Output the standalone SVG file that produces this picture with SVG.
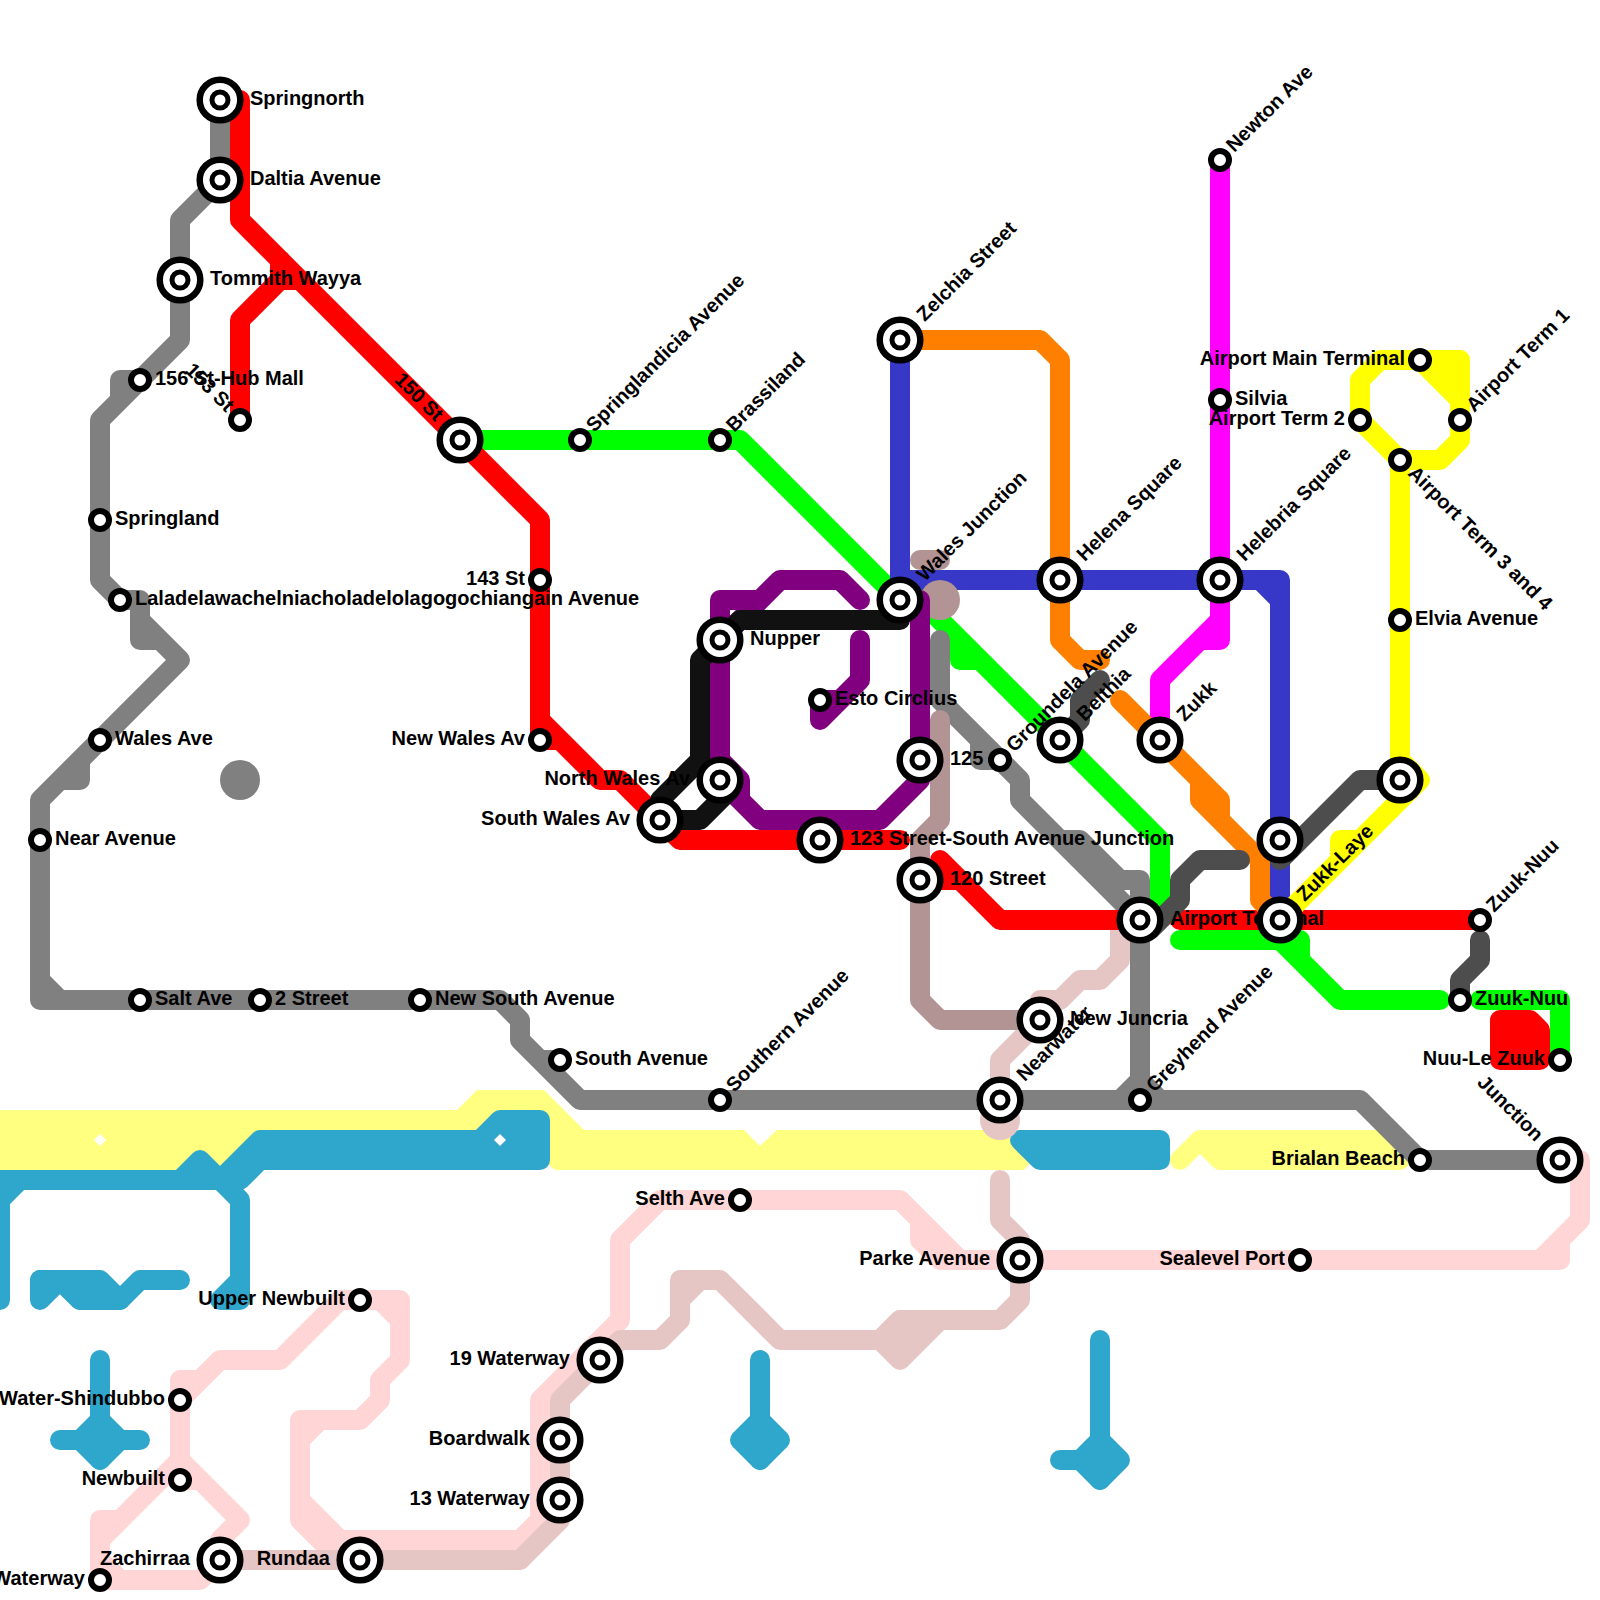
<svg xmlns="http://www.w3.org/2000/svg" width="1600" height="1600" viewBox="0 0 1600 1600">
<style>
.b{fill:none;stroke-width:20;stroke-linecap:round;stroke-linejoin:round}
.f{stroke-width:20;stroke-linejoin:round}
.g{stroke:#808080}.r{stroke:#f00}.gr{stroke:#0f0}.bl{stroke:#3838c8}.m{stroke:#f0f}.o{stroke:#ff8000}.p{stroke:#800080}.k{stroke:#111}.d{stroke:#4d4d4d}.y{stroke:#ff0}.t{stroke:#b29494}.pb{stroke:#e6c5c5}.pk{stroke:#ffd5d5}.w{stroke:#2fa6cc}.ly{stroke:#ffff80}
.o1{fill:#fff;stroke:#000;stroke-width:6.5}
.o2{fill:#fff;stroke:#000;stroke-width:5}
.s{fill:#fff;stroke:#000;stroke-width:6}
text{font-family:"Liberation Sans",Arial,sans-serif;font-weight:700;font-size:20px;fill:#000}
.e{text-anchor:end}
</style>
<defs>
<g id="big"><circle class="o1" r="20.3"/><circle class="o2" r="8"/></g>
<circle id="small" class="s" r="9"/>
</defs>
<g id="connectors">
<polygon fill="#ffff80" points="0,1110 457,1110 477,1090 544,1090 584,1130 744,1130 760,1146 777,1130 1005,1130 1030,1163 1024,1170 555,1170 549,1165 549,1150 0,1150 0,1170"/>
<rect x="0" y="1110" width="260" height="60" fill="#ffff80"/>
<path class="b ly" d="M1180,1160L1200,1140L1220,1160H1400M1200,1140H1380L1400,1160"/>
<polygon fill="#fff" points="100,1134 106,1140 100,1146 94,1140"/>
<g class="b w">
<path d="M0,1300V1180H220L240,1200V1300H220L240,1280M20,1180L0,1200M180,1180L200,1160L220,1180"/>
<path class="f" fill="#2fa6cc" d="M220,1180L260,1140H480L500,1120H540V1160H260L240,1180Z"/>
<path d="M40,1280V1300L60,1280L80,1300H120L140,1280H180"/><path class="f" fill="#2fa6cc" d="M40,1280H100L120,1300H80L60,1280Z"/>
<path d="M100,1360V1460M60,1440H140"/><path class="f" fill="#2fa6cc" d="M100,1420L120,1440L100,1460L80,1440Z"/>
<path d="M760,1360V1460"/><path class="f" fill="#2fa6cc" d="M760,1420L780,1440L760,1460L740,1440Z"/>
<path d="M1100,1340V1480M1060,1460H1100"/><path class="f" fill="#2fa6cc" d="M1100,1440L1120,1460L1100,1480L1080,1460Z"/>
<path class="f" fill="#2fa6cc" d="M1020,1140H1160V1160H1040Z"/>
</g>
<polygon fill="#fff" points="500,1134 506,1140 500,1146 494,1140"/>
<g class="b pk">
<path d="M360,1300H400V1360L380,1380V1400L360,1420H300V1520L340,1560M380,1300L400,1320M320,1420L300,1440M300,1500L340,1540H520L540,1520V1400L620,1320V1240L660,1200H900L960,1260M920,1220V1240L940,1260M340,1560H520M1020,1260H1560V1240M1540,1260L1580,1220V1160H1560M940,1260H1020"/>
<path d="M360,1300H340L280,1360H220L180,1400M200,1380H180V1480M180,1460L100,1540M120,1520H100V1580H200L220,1560M100,1560L120,1580M180,1460L240,1520L220,1540M180,1480H200"/>
</g>
<g class="b pb">
<path d="M1140,920H1120V960L1100,980H1080L1060,1000H1040V1020L1000,1060V1120"/>
<path d="M1000,1180V1220L1020,1240V1300L1000,1320H900L880,1340H780L720,1280H680V1320L660,1340H620L560,1400V1520L520,1560H220M700,1280L680,1300"/>
<path class="f" fill="#e6c5c5" d="M880,1340L900,1320H940L900,1360Z"/>
</g>
<circle cx="1000" cy="1120" r="20" fill="#e6c5c5"/>
<g class="b gr">
<path d="M460,440H740L900,600H920L1160,840V900L1140,920M960,640V660H980"/>
<path d="M1180,940H1280L1340,1000H1440M1280,940H1300V960"/>
<path d="M1480,1000H1560V1060"/>
</g>
<g class="b g">
<path d="M220,100V180L180,220V340L100,420V580L120,600H140V640H160M140,380H120V400M140,620L180,660L40,800V1000H500L520,1020V1040L580,1100H1360L1420,1160H1560M80,760V780H60M40,980L60,1000M540,1060H560"/>
<path d="M940,640V700L1020,780V800L1140,920V1100M980,740V760H1000M1060,840H1080L1120,880H1140V920M1140,1080L1120,1100M1140,1080L1160,1100"/>
</g>
<circle cx="240" cy="780" r="20" fill="#808080"/>
<path class="b bl" d="M900,340V600M900,580H1280V920M1260,580L1280,600"/>
<path class="b t" d="M920,560H940M940,720V820L920,840V1000L940,1020H1040"/>
<circle cx="940" cy="600" r="20" fill="#b29494"/>
<g class="b r">
<path d="M240,100V220L540,520V740H560M540,720L600,780H620L680,840H900"/>
<path d="M240,420V320L280,280H300M280,260V280"/>
<path d="M940,860L1000,920H1140M920,880H960M1180,920H1480"/>
</g>
<path class="f r" fill="#f00" d="M1500,1020H1530L1540,1030V1060H1500Z"/>
<path class="b m" d="M1220,160V640H1200M1220,620L1160,680V740"/>
<g class="b o">
<path d="M900,340H1040L1060,360V640L1080,660H1100"/>
<path d="M1120,700L1220,800V820L1260,860V900L1280,920M1200,780V800L1260,860"/>
</g>
<g class="b p">
<path d="M720,780V600H760L780,580H840L860,600M720,640L780,580M720,760L740,780V800L760,820H880L920,780V600M720,780L760,820"/>
<path d="M860,640V680L820,720V700H840"/>
</g>
<path class="b k" d="M900,620H740L700,660V760L660,800M660,820H700L730,790"/>
<g class="b d">
<path d="M1060,740L1080,720V700L1100,680"/>
<path d="M1150,930L1180,900V880L1200,860H1240"/>
<path d="M1280,860L1360,780H1400"/>
<path d="M1480,940V960L1460,980V1000"/>
</g>
<g class="b y">
<path d="M1420,360H1460V440L1440,460H1400L1360,420V380L1380,360H1420"/>
<path class="f" fill="#ff0" d="M1420,360H1460V400Z"/>
<path d="M1400,460V760L1420,780L1280,920M1360,840H1340V860"/>
</g>
</g>
<g id="nodes">
<g id="near-avenue" transform="translate(40,840)"><text x="15" y="4.5">Near Avenue</text><use href="#small"/></g>
<g id="waterway" transform="translate(100,1580)"><text class="e" x="-15" y="4.5">Waterway</text><use href="#small"/></g>
<g id="wales-ave" transform="translate(100,740)"><text x="15" y="4.5">Wales Ave</text><use href="#small"/></g>
<g id="springland" transform="translate(100,520)"><text x="15" y="4.5">Springland</text><use href="#small"/></g>
<g id="laladel" transform="translate(120,600)"><text x="15" y="4.5">Laladelawachelniacholadelolagogochiangain Avenue</text><use href="#small"/></g>
<g id="hub-mall" transform="translate(140,380)"><text x="15" y="4.5">156 St-Hub Mall</text><use href="#small"/></g>
<g id="salt-ave" transform="translate(140,1000)"><text x="15" y="4.5">Salt Ave</text><use href="#small"/></g>
<g id="tommith" transform="translate(180,280)"><text x="30" y="4.5">Tommith Wayya</text><use href="#big"/></g>
<g id="water-shindubbo" transform="translate(180,1400)"><text class="e" x="-15" y="4.5">Water-Shindubbo</text><use href="#small"/></g>
<g id="newbuilt" transform="translate(180,1480)"><text class="e" x="-15" y="4.5">Newbuilt</text><use href="#small"/></g>
<g id="springnorth" transform="translate(220,100)"><text x="30" y="4.5">Springnorth</text><use href="#big"/></g>
<g id="daltia" transform="translate(220,180)"><text x="30" y="4.5">Daltia Avenue</text><use href="#big"/></g>
<g id="zachirraa" transform="translate(220,1560)"><text class="e" x="-30" y="4.5">Zachirraa</text><use href="#big"/></g>
<g id="st153" transform="translate(240,420)"><text class="e" transform="rotate(45)" x="-15" y="5">153 St</text><use href="#small"/></g>
<g id="street2" transform="translate(260,1000)"><text x="15" y="4.5">2 Street</text><use href="#small"/></g>
<g id="upper-newbuilt" transform="translate(360,1300)"><text class="e" x="-15" y="4.5">Upper Newbuilt</text><use href="#small"/></g>
<g id="rundaa" transform="translate(360,1560)"><text class="e" x="-30" y="4.5">Rundaa</text><use href="#big"/></g>
<g id="new-south" transform="translate(420,1000)"><text x="15" y="4.5">New South Avenue</text><use href="#small"/></g>
<g id="st150" transform="translate(460,440)"><text class="e" transform="rotate(45)" x="-30" y="5">150 St</text><use href="#big"/></g>
<g id="st143" transform="translate(540,580)"><text class="e" x="-15" y="4.5">143 St</text><use href="#small"/></g>
<g id="new-wales" transform="translate(540,740)"><text class="e" x="-15" y="4.5">New Wales Av</text><use href="#small"/></g>
<g id="south-avenue" transform="translate(560,1060)"><text x="15" y="4.5">South Avenue</text><use href="#small"/></g>
<g id="boardwalk" transform="translate(560,1440)"><text class="e" x="-30" y="4.5">Boardwalk</text><use href="#big"/></g>
<g id="waterway13" transform="translate(560,1500)"><text class="e" x="-30" y="4.5">13 Waterway</text><use href="#big"/></g>
<g id="springlandicia" transform="translate(580,440)"><text transform="rotate(-45)" x="15" y="5">Springlandicia Avenue</text><use href="#small"/></g>
<g id="waterway19" transform="translate(600,1360)"><text class="e" x="-30" y="4.5">19 Waterway</text><use href="#big"/></g>
<g id="south-wales" transform="translate(660,820)"><text class="e" x="-30" y="4.5">South Wales Av</text><use href="#big"/></g>
<g id="nupper" transform="translate(720,640)"><text x="30" y="4.5">Nupper</text><use href="#big"/></g>
<g id="north-wales" transform="translate(720,780)"><text class="e" x="-30" y="4.5">North Wales Av</text><use href="#big"/></g>
<g id="brassiland" transform="translate(720,440)"><text transform="rotate(-45)" x="15" y="5">Brassiland</text><use href="#small"/></g>
<g id="southern" transform="translate(720,1100)"><text transform="rotate(-45)" x="15" y="5">Southern Avenue</text><use href="#small"/></g>
<g id="selth" transform="translate(740,1200)"><text class="e" x="-15" y="4.5">Selth Ave</text><use href="#small"/></g>
<g id="esto" transform="translate(820,700)"><text x="15" y="4.5">Esto Circlius</text><use href="#small"/></g>
<g id="st123" transform="translate(820,840)"><text x="30" y="4.5">123 Street-South Avenue Junction</text><use href="#big"/></g>
<g id="zelchia" transform="translate(900,340)"><text transform="rotate(-45)" x="30" y="5">Zelchia Street</text><use href="#big"/></g>
<g id="wales-junction" transform="translate(900,600)"><text transform="rotate(-45)" x="30" y="5">Wales Junction</text><use href="#big"/></g>
<g id="st125" transform="translate(920,760)"><text x="30" y="4.5">125 St</text><use href="#big"/></g>
<g id="street120" transform="translate(920,880)"><text x="30" y="4.5">120 Street</text><use href="#big"/></g>
<g id="groundela" transform="translate(1000,760)"><text transform="rotate(-45)" x="15" y="5">Groundela Avenue</text><use href="#small"/></g>
<g id="nearwater" transform="translate(1000,1100)"><text transform="rotate(-45)" x="30" y="5">Nearwater</text><use href="#big"/></g>
<g id="parke" transform="translate(1020,1260)"><text class="e" x="-30" y="4.5">Parke Avenue</text><use href="#big"/></g>
<g id="new-juncria" transform="translate(1040,1020)"><text x="30" y="4.5">New Juncria</text><use href="#big"/></g>
<g id="helena" transform="translate(1060,580)"><text transform="rotate(-45)" x="30" y="5">Helena Square</text><use href="#big"/></g>
<g id="belthia" transform="translate(1060,740)"><text transform="rotate(-45)" x="30" y="5">Belthia</text><use href="#big"/></g>
<g id="airport-terminal" transform="translate(1140,920)"><text x="30" y="4.5">Airport Terminal</text><use href="#big"/></g>
<g id="greyhend" transform="translate(1140,1100)"><text transform="rotate(-45)" x="15" y="5">Greyhend Avenue</text><use href="#small"/></g>
<g id="zukk" transform="translate(1160,740)"><text transform="rotate(-45)" x="30" y="5">Zukk</text><use href="#big"/></g>
<g id="newton" transform="translate(1220,160)"><text transform="rotate(-45)" x="15" y="5">Newton Ave</text><use href="#small"/></g>
<g id="silvia" transform="translate(1220,400)"><text x="15" y="4.5">Silvia</text><use href="#small"/></g>
<g id="helebria" transform="translate(1220,580)"><text transform="rotate(-45)" x="30" y="5">Helebria Square</text><use href="#big"/></g>
<g id="node-1280-840" transform="translate(1280,840)"><use href="#big"/></g>
<g id="zukk-laye" transform="translate(1280,920)"><text transform="rotate(-45)" x="30" y="5">Zukk-Laye</text><use href="#big"/></g>
<g id="sealevel" transform="translate(1300,1260)"><text class="e" x="-15" y="4.5">Sealevel Port</text><use href="#small"/></g>
<g id="term2" transform="translate(1360,420)"><text class="e" x="-15" y="4.5">Airport Term 2</text><use href="#small"/></g>
<g id="term34" transform="translate(1400,460)"><text transform="rotate(45)" x="15" y="5">Airport Term 3 and 4</text><use href="#small"/></g>
<g id="elvia" transform="translate(1400,620)"><text x="15" y="4.5">Elvia Avenue</text><use href="#small"/></g>
<g id="node-1400-780" transform="translate(1400,780)"><use href="#big"/></g>
<g id="main-terminal" transform="translate(1420,360)"><text class="e" x="-15" y="4.5">Airport Main Terminal</text><use href="#small"/></g>
<g id="brialan" transform="translate(1420,1160)"><text class="e" x="-15" y="4.5">Brialan Beach</text><use href="#small"/></g>
<g id="term1" transform="translate(1460,420)"><text transform="rotate(-45)" x="15" y="5">Airport Term 1</text><use href="#small"/></g>
<g id="zuuk-nuu-2" transform="translate(1460,1000)"><text x="15" y="4.5">Zuuk-Nuu</text><use href="#small"/></g>
<g id="zuuk-nuu-1" transform="translate(1480,920)"><text transform="rotate(-45)" x="15" y="5">Zuuk-Nuu</text><use href="#small"/></g>
<g id="nuu-le-zuuk" transform="translate(1560,1060)"><text class="e" x="-15" y="4.5">Nuu-Le Zuuk</text><use href="#small"/></g>
<g id="junction" transform="translate(1560,1160)"><text class="e" transform="rotate(45)" x="-30" y="5">Junction</text><use href="#big"/></g>
</g>
</svg>
